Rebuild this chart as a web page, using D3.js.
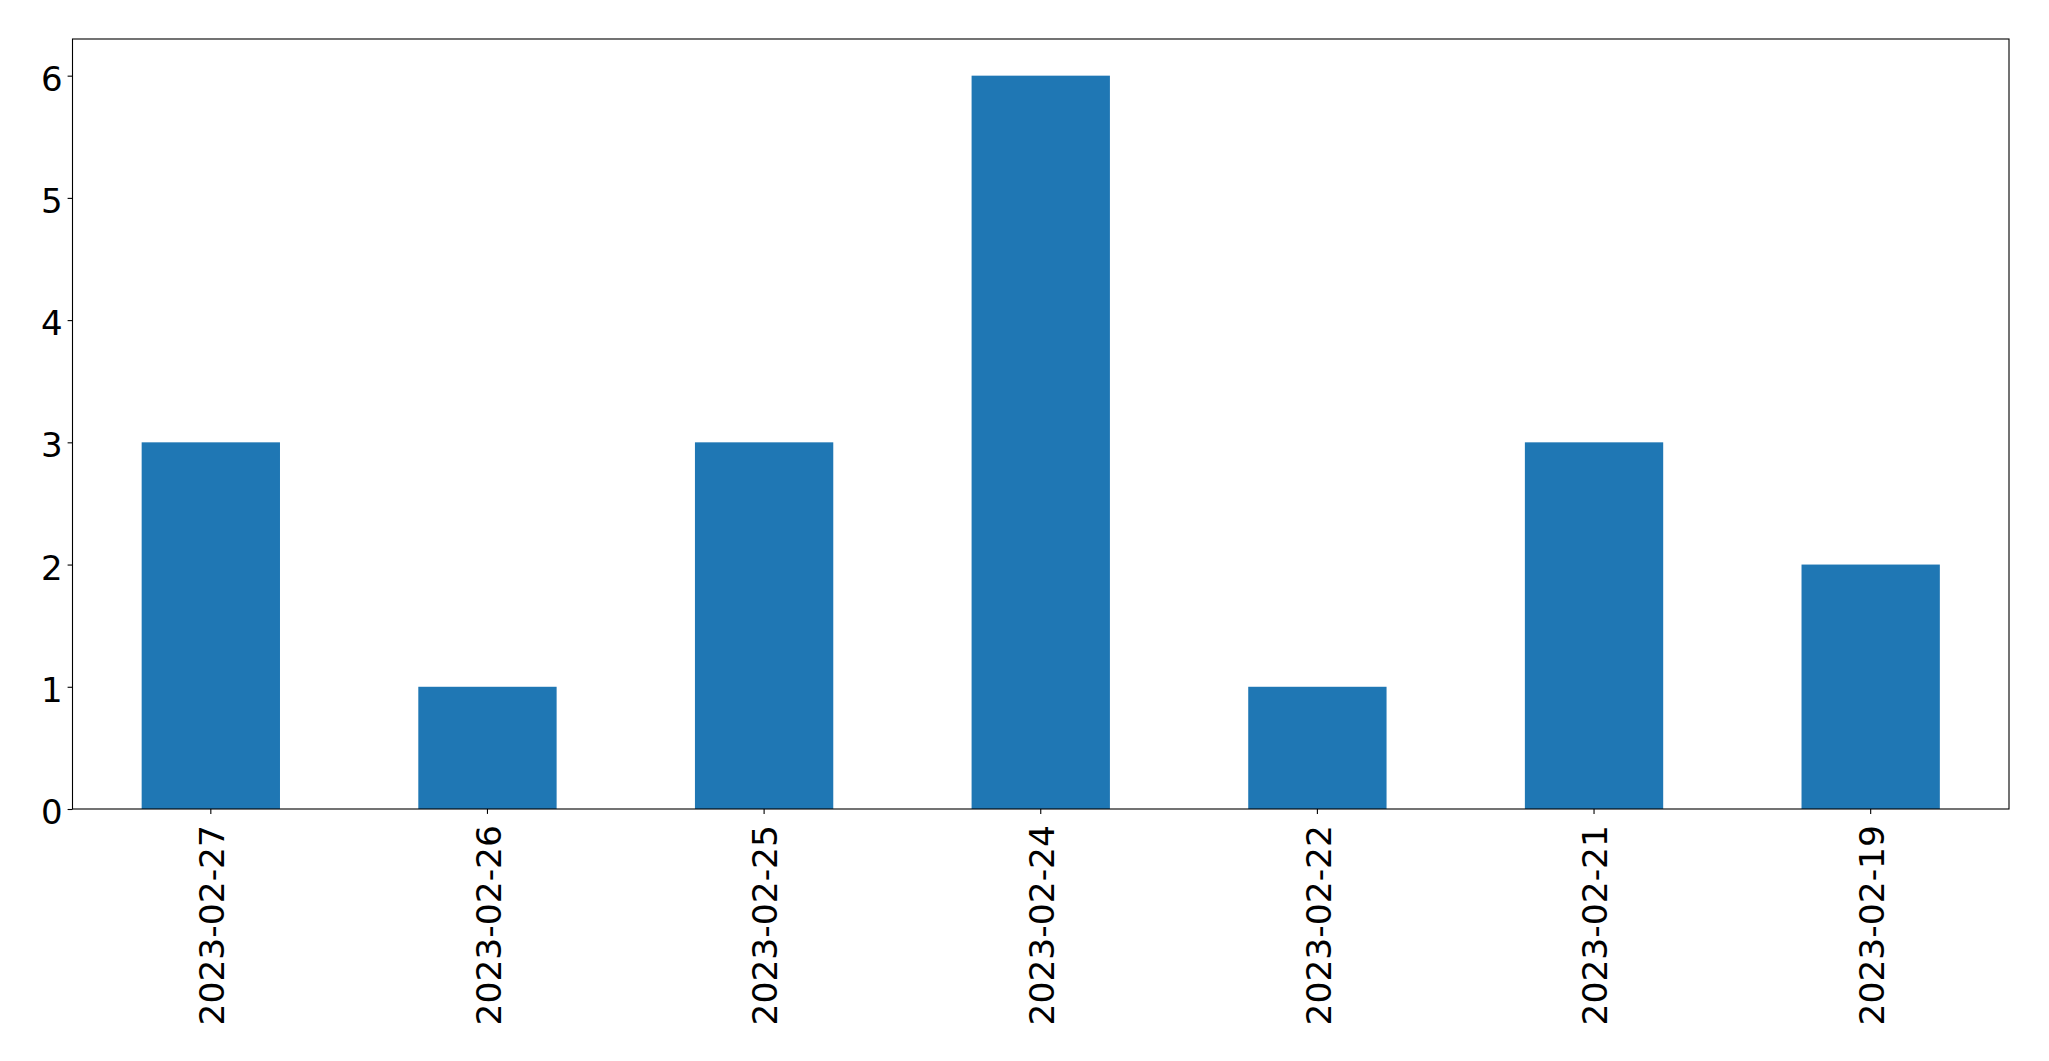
<!DOCTYPE html>
<html>
<head>
<meta charset="utf-8">
<script src="https://cdn.jsdelivr.net/npm/d3@7"></script>
<style>
  html, body { margin: 0; padding: 0; background: #fff; }
  svg { display: block; }
  text { font-family: "DejaVu Sans", sans-serif; fill: #000; }
</style>
</head>
<body>
<svg id="chart" width="2049" height="1061"></svg>
<script>
const categories = ["2023-02-27", "2023-02-26", "2023-02-25", "2023-02-24", "2023-02-22", "2023-02-21", "2023-02-19"];
const values = [3, 1, 3, 6, 1, 3, 2];
const yTicks = [0, 1, 2, 3, 4, 5, 6];

(function () {
const mLeft = 72.5, mRight = 2009, mTop = 39, mBottom = 809;
const fontSize = 34;
const xFontSize = 34.5;
const tickLen = 4.9;

const svg = d3.select("#chart");

const x = d3.scaleBand()
  .domain(categories)
  .range([mLeft, mRight])
  .paddingInner(0.5)
  .paddingOuter(0.25);

const y = d3.scaleLinear()
  .domain([0, 6.3])
  .range([mBottom, mTop]);

// bars
svg.append("g")
  .selectAll("rect")
  .data(values)
  .join("rect")
  .attr("x", (d, i) => x(categories[i]))
  .attr("y", d => y(d))
  .attr("width", x.bandwidth())
  .attr("height", d => y(0) - y(d))
  .attr("fill", "#1f77b4");

// frame
svg.append("rect")
  .attr("x", mLeft).attr("y", mTop)
  .attr("width", mRight - mLeft).attr("height", mBottom - mTop)
  .attr("fill", "none").attr("stroke", "#000").attr("stroke-width", 1.1);

// y axis
const yAxis = d3.axisLeft(y).tickValues(yTicks).tickSize(tickLen).tickPadding(5).tickFormat(d3.format("d"));
const gy = svg.append("g").attr("transform", `translate(${mLeft},0)`).call(yAxis);
gy.select(".domain").remove();
gy.selectAll(".tick line").attr("stroke", "#000").attr("stroke-width", 1.1);
gy.selectAll(".tick text")
  .attr("font-size", fontSize)
  .attr("font-family", "DejaVu Sans, sans-serif")
  .attr("fill", "#000")
  .attr("dy", "0.43em");

// x axis
const xAxis = d3.axisBottom(x).tickSize(tickLen).tickPadding(0);
const gx = svg.append("g").attr("transform", `translate(0,${mBottom})`).call(xAxis);
gx.select(".domain").remove();
gx.selectAll(".tick line").attr("stroke", "#000").attr("stroke-width", 1.1);
gx.selectAll(".tick text")
  .attr("font-size", xFontSize)
  .attr("font-family", "DejaVu Sans, sans-serif")
  .attr("fill", "#000")
  .attr("text-anchor", "end")
  .attr("x", 0)
  .attr("y", 0)
  .attr("dy", "0.38em")
  .attr("transform", "translate(0,16) rotate(-90)");
})();
</script>
</body>
</html>
